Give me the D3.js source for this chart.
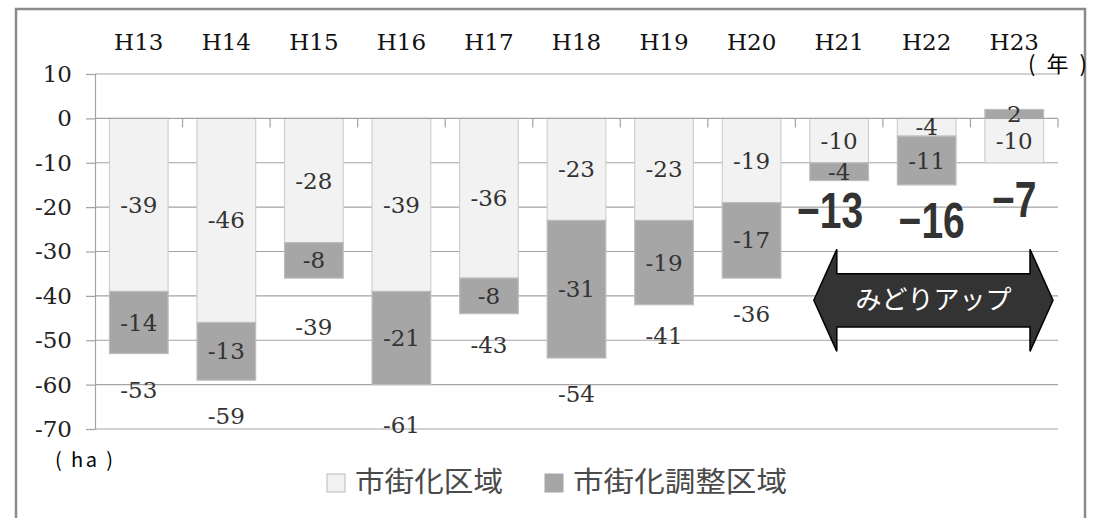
<!DOCTYPE html>
<html>
<head>
<meta charset="utf-8">
<script src="https://cdn.jsdelivr.net/npm/d3@7/dist/d3.min.js"></script>
<style>
  html, body { margin: 0; padding: 0; background: #fff; }
  svg { display: block; }
  .serif { font-family: "DejaVu Serif", "Liberation Serif", serif; }
</style>
</head>
<body>
<svg id="chart" width="1097" height="518"></svg>
<script>
// Yearly change in farmland area (ha), split by zoning type
const years = ["H13", "H14", "H15", "H16", "H17", "H18", "H19", "H20", "H21", "H22", "H23"];
const urbanArea = [-39, -46, -28, -39, -36, -23, -23, -19, -10, -4, -10];      // 市街化区域
const adjustArea = [-14, -13, -8, -21, -8, -31, -19, -17, -4, -11, 2];         // 市街化調整区域
const totals = [-53, -59, -39, -61, -43, -54, -41, -36, -13, -16, -7];
const yTicks = [10, 0, -10, -20, -30, -40, -50, -60, -70];
const highlightYears = ["H21", "H22", "H23"];
const seriesNames = ["市街化区域", "市街化調整区域"];

const svg = d3.select("#chart");
const jp = "'Noto Sans CJK JP', 'Noto Sans', sans-serif";
const colLight = "#f2f2f2", colDark = "#a6a6a6";
const gridCol = "#a3a3a3";
const fmt = d => d < 0 ? "-" + Math.abs(d) : String(d);
const numSize = 23;

// outer frame
svg.append("rect")
  .attr("x", 16).attr("y", 9).attr("width", 1069).attr("height", 540)
  .attr("fill", "none").attr("stroke", "#8a8a8a").attr("stroke-width", 2.5);

const x = d3.scaleBand().domain(years).range([95, 1058])
  .paddingInner(0.33).paddingOuter(0.165);
const y = d3.scaleLinear().domain([-70, 10]).range([429, 74]);

// horizontal gridlines
svg.append("g").selectAll("line").data(yTicks.filter(d => d !== 0)).join("line")
  .attr("x1", 95).attr("x2", 1058)
  .attr("y1", d => y(d)).attr("y2", d => y(d))
  .attr("stroke", gridCol).attr("stroke-width", 1.2);

// stacked segments
const rows = years.map((yr, i) => ({ yr, u: urbanArea[i], a: adjustArea[i], t: totals[i] }));
rows.forEach(r => {
  r.segs = [];
  r.segs.push({ key: 0, v0: 0, v1: r.u, v: r.u });
  if (r.a < 0) r.segs.push({ key: 1, v0: r.u, v1: r.u + r.a, v: r.a });
  else r.segs.push({ key: 1, v0: 0, v1: r.a, v: r.a });
});

const barG = svg.append("g");
rows.forEach(r => {
  barG.selectAll(null).data(r.segs).join("rect")
    .attr("x", x(r.yr))
    .attr("width", x.bandwidth())
    .attr("y", d => y(Math.max(d.v0, d.v1)))
    .attr("height", d => Math.abs(y(d.v0) - y(d.v1)))
    .attr("fill", d => d.key === 0 ? colLight : colDark)
    .attr("stroke", d => d.key === 0 ? "#cfcfcf" : "#bdbdbd")
    .attr("stroke-width", 1.2);
});

// y axis
const yAxis = svg.append("g").attr("transform", "translate(95,0)")
  .call(d3.axisLeft(y).tickValues(yTicks).tickSize(9).tickPadding(14).tickFormat(fmt));
yAxis.attr("font-family", null).attr("font-size", null);
yAxis.select(".domain").attr("stroke", gridCol).attr("stroke-width", 1.2);
yAxis.selectAll(".tick line").attr("stroke", gridCol).attr("stroke-width", 1.2);
yAxis.selectAll(".tick text").attr("class", "serif").style("font-size", numSize + "px").attr("fill", "#222");

// zero line with downward category ticks
svg.append("line").attr("x1", 95).attr("x2", 1058)
  .attr("y1", y(0)).attr("y2", y(0)).attr("stroke", gridCol).attr("stroke-width", 1.2);
svg.append("g").selectAll("line").data(years).join("line")
  .attr("x1", d => x(d) + x.bandwidth() + x.step() * x.paddingInner() / 2)
  .attr("x2", d => x(d) + x.bandwidth() + x.step() * x.paddingInner() / 2)
  .attr("y1", y(0)).attr("y2", y(0) + 9)
  .attr("stroke", gridCol).attr("stroke-width", 1.2);

// category labels along the top
const xAxis = svg.append("g").attr("transform", "translate(0,50)")
  .call(d3.axisTop(x).tickSize(0).tickPadding(0));
xAxis.attr("font-family", null).attr("font-size", null);
xAxis.select(".domain").remove();
xAxis.selectAll(".tick text").attr("class", "serif").style("font-size", numSize + "px").attr("fill", "#111");

// segment value labels
const lblG = svg.append("g").attr("class", "serif").style("font-size", numSize + "px")
  .attr("fill", "#333").attr("text-anchor", "middle");
rows.forEach(r => {
  lblG.selectAll(null).data(r.segs).join("text")
    .attr("x", x(r.yr) + x.bandwidth() / 2)
    .attr("y", d => y((d.v0 + d.v1) / 2))
    .attr("dy", "0.35em")
    .text(d => fmt(d.v));
});

// totals below each bar
lblG.selectAll(null).data(rows.filter(r => !highlightYears.includes(r.yr))).join("text")
  .attr("x", r => x(r.yr) + x.bandwidth() / 2)
  .attr("y", r => y(r.t) + 36)
  .attr("dy", "0.35em")
  .text(r => fmt(r.t));

// highlighted totals for the みどりアップ period
const calloutNudge = { H21: [-9, 52], H22: [5, 49], H23: [0, 68] };
svg.append("g").selectAll("text").data(rows.filter(r => highlightYears.includes(r.yr))).join("text")
  .attr("transform", r => `translate(${x(r.yr) + x.bandwidth() / 2 + calloutNudge[r.yr][0]},${y(r.t) + calloutNudge[r.yr][1]}) scale(0.78,1)`)
  .attr("text-anchor", "middle")
  .attr("font-family", "'Liberation Sans', Arial, sans-serif")
  .attr("font-weight", "bold").attr("font-size", 50).attr("fill", "#333")
  .text(r => "\u2212" + Math.abs(r.t));

// double-headed arrow over the highlighted years
const aL = x("H21") + 4, aR = x.range()[1] - 5, head = 23;
const shT = y(-35), shB = y(-47), hdT = y(-29.5), hdB = y(-52.5), mid = y(-41);
const arrow = [
  [aL, mid], [aL + head, hdT], [aL + head, shT], [aR - head, shT], [aR - head, hdT],
  [aR, mid], [aR - head, hdB], [aR - head, shB], [aL + head, shB], [aL + head, hdB]
];
svg.append("path").attr("d", d3.line()(arrow) + "Z")
  .attr("fill", "#333").attr("stroke", "#000").attr("stroke-width", 1.5);
svg.append("text").attr("x", (aL + aR) / 2).attr("y", mid).attr("dy", "0.35em")
  .attr("text-anchor", "middle").attr("font-family", jp).attr("font-size", 26)
  .attr("fill", "#fff").text("みどりアップ");

// unit labels
svg.append("text").attr("x", 1028).attr("y", 64).attr("dy", "0.35em")
  .attr("font-family", jp).attr("font-size", 22).attr("fill", "#000")
  .attr("textLength", 59).attr("lengthAdjust", "spacing").text("( 年 )");
svg.append("text").attr("x", 55).attr("y", 460).attr("dy", "0.35em")
  .attr("font-family", jp).attr("font-size", 20).attr("fill", "#000")
  .attr("textLength", 58).attr("lengthAdjust", "spacing").text("( ha )");

// legend
const legendPos = [{ sx: 327, tx: 355, w: 148 }, { sx: 545, tx: 573, w: 214 }];
const lg = svg.append("g");
seriesNames.forEach((name, i) => {
  lg.append("rect").attr("x", legendPos[i].sx).attr("y", 474).attr("width", 18).attr("height", 18)
    .attr("fill", i === 0 ? colLight : colDark).attr("stroke", i === 0 ? "#bbb" : "#a6a6a6");
  lg.append("text").attr("x", legendPos[i].tx).attr("y", 482).attr("dy", "0.35em")
    .attr("font-family", jp).attr("font-size", 28).attr("fill", "#4a4a4a")
    .attr("textLength", legendPos[i].w).attr("lengthAdjust", "spacingAndGlyphs")
    .text(name);
});
</script>
</body>
</html>
